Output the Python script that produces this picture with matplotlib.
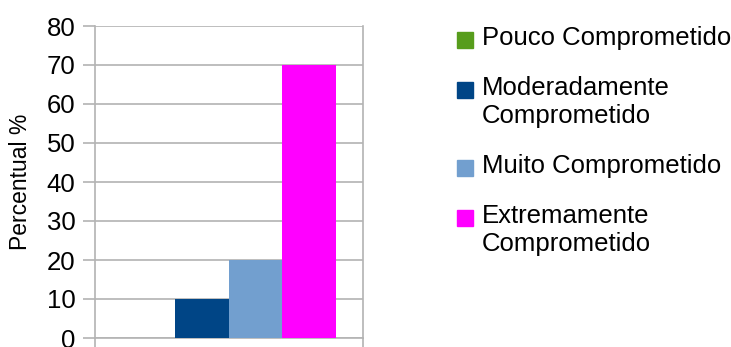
import matplotlib.pyplot as plt
from matplotlib.patches import Rectangle

plt.rcParams['font.family'] = ['Liberation Sans', 'DejaVu Sans']

# grau de comprometimento
categorias = ['Pouco Comprometido', 'Moderadamente\nComprometido',
              'Muito Comprometido', 'Extremamente\nComprometido']
percentuais = [0, 10, 20, 70]
cores = ['#579d1c', '#004586', '#729fcf', '#ff00ff']

W, H = 731, 347
fig = plt.figure(figsize=(W / 100, H / 100), dpi=100)
ax = fig.add_axes([95 / W, (H - 338) / H, 267.5 / W, 312 / H])

grid = '#b3b3b3'
largura = 0.2
n = len(percentuais)
for i, (v, c) in enumerate(zip(percentuais, cores)):
    ax.bar((i - (n - 1) / 2) * largura, v, width=largura, color=c, zorder=3)

ax.set_xlim(-0.5, 0.5)
ax.set_ylim(0, 80)
ax.set_yticks(range(0, 81, 10))
ax.set_xticks([-0.5, 0.5])
ax.set_xticklabels([])
ax.yaxis.grid(True, color=grid, linewidth=1.2, zorder=0)
ax.tick_params(axis='y', length=9, width=1.2, color=grid, labelsize=18.5, pad=5)
ax.tick_params(axis='x', length=9, width=1.2, color=grid)
for s in ['left', 'right', 'bottom']:
    ax.spines[s].set_color(grid)
    ax.spines[s].set_linewidth(1.2)
ax.spines['top'].set_visible(False)
ax.set_ylabel('Percentual %', fontsize=16.5, va='center')
ax.yaxis.set_label_coords((20 - 95) / 267.5, 0.5)

# legenda ao lado
y = 40
for lab, c in zip(categorias, cores):
    fig.patches.append(Rectangle((457 / W, (H - y - 8) / H), 16 / W, 16 / H,
                                 transform=fig.transFigure, color=c))
    fig.text(482 / W, (H - y + 14) / H, lab, fontsize=18.5, va='top', ha='left',
             linespacing=1.2)
    y += 50 + 28 * lab.count('\n')

fig.savefig('out.png', dpi=100)
